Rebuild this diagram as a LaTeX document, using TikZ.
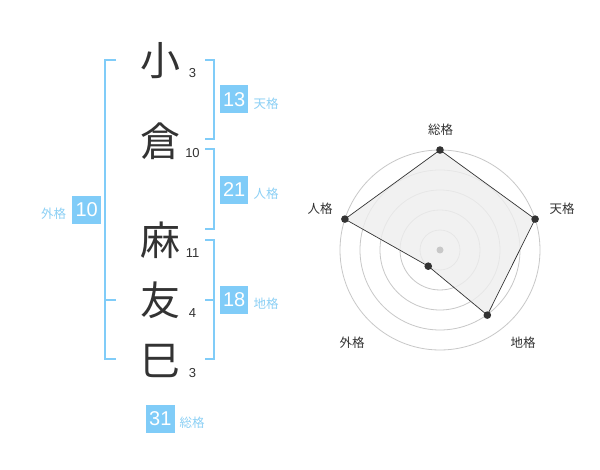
\documentclass[tikz,border=0pt]{standalone}
\usepackage{fontspec}
\usetikzlibrary{calc}
\setmainfont{Liberation Sans}
\newfontfamily\jp{Noto Sans CJK JP}
\definecolor{kblue}{RGB}{128,204,248}
\definecolor{klabel}{RGB}{140,208,245}
\definecolor{kdark}{RGB}{51,51,51}
\definecolor{kgrid}{RGB}{200,200,200}
\definecolor{kfill}{RGB}{238,238,238}
\tikzset{
  kanji/.style={inner sep=0pt, text=kdark, font=\jp\fontsize{40}{40}\selectfont},
  strokes/.style={inner sep=0pt, text=kdark, font=\fontsize{13}{13}\selectfont},
  scorebox/.style={fill=kblue, text=white, minimum width=28.5pt, minimum height=28.5pt, inner sep=0pt, font=\fontsize{20}{20}\selectfont},
  scorelabel/.style={inner sep=0pt, text=klabel, font=\jp\fontsize{12.5}{12.5}\selectfont},
  bracket/.style={draw=kblue, line width=2pt},
  axislabel/.style={inner sep=0pt, text=kdark, font=\jp\fontsize{12.5}{12.5}\selectfont},
  gridc/.style={draw=kgrid, line width=0.8pt},
  dot/.style={fill=kdark},
}
\begin{document}
\begin{tikzpicture}[x=1pt,y=-1pt]
\useasboundingbox[fill=white] (0,0) rectangle (600,470);
% kanji
\node[kanji] (k1) at (160,61) {小};
\node[kanji] (k2) at (160,141) {倉};
\node[kanji] (k3) at (160,240) {麻};
\node[kanji] (k4) at (160,300) {友};
\node[kanji] (k5) at (160,361) {巳};
\node[strokes] (s1) at (192.5,73) {3};
\node[strokes] (s2) at (192.5,153) {10};
\node[strokes] (s3) at (192.5,253) {11};
\node[strokes] (s4) at (192.5,313) {4};
\node[strokes] (s5) at (192.5,373) {3};
% brackets
\draw[bracket] (116,60) -- (105,60) -- (105,359.3) -- (116,359.3);
\draw[bracket] (105,300) -- (116,300);
\draw[bracket] (205,60) -- (214.3,60) -- (214.3,139.3) -- (205,139.3);
\draw[bracket] (205,149.3) -- (214.3,149.3) -- (214.3,229.3) -- (205,229.3);
\draw[bracket] (205,240) -- (214.3,240) -- (214.3,359.3) -- (205,359.3);
\draw[bracket] (205,300) -- (214.3,300);
% score boxes
\node[scorebox] (b1) at (234.2,99.2) {13};
\node[scorelabel] (l1) at (266,104) {天格};
\node[scorebox] (b2) at (234.2,190) {21};
\node[scorelabel] (l2) at (266,194) {人格};
\node[scorebox] (b3) at (234.2,300) {18};
\node[scorelabel] (l3) at (266,304) {地格};
\node[scorebox] (b4) at (86.7,210) {10};
\node[scorelabel] (l4) at (53.5,214) {外格};
\node[scorebox] (b5) at (160.3,419) {31};
\node[scorelabel] (l5) at (192,423) {総格};
% radar
\coordinate (c) at (440,250);
\foreach \r in {20,40,60,80,100} \draw[gridc] (c) circle[radius=\r];
\coordinate (pS) at ($(c)+(-90:100)$);
\coordinate (pT) at ($(c)+(-18:100)$);
\coordinate (pC) at ($(c)+(54:80.5)$);
\coordinate (pG) at ($(c)+(126:20)$);
\coordinate (pJ) at ($(c)+(198:100)$);
\filldraw[fill=kfill, fill opacity=0.8, draw=kdark, line width=0.7pt] (pS) -- (pT) -- (pC) -- (pG) -- (pJ) -- cycle;
\fill[kgrid] (c) circle[radius=3.5];
\foreach \p in {pS,pT,pC,pG,pJ} \fill[dot] (\p) circle[radius=3.8];
\node[axislabel] (aS) at (440.5,130) {総格};
\node[axislabel] (aT) at (562,209) {天格};
\node[axislabel] (aJ) at (320,209) {人格};
\node[axislabel] (aG) at (352,343) {外格};
\node[axislabel] (aC) at (523,343) {地格};
\end{tikzpicture}
\end{document}
